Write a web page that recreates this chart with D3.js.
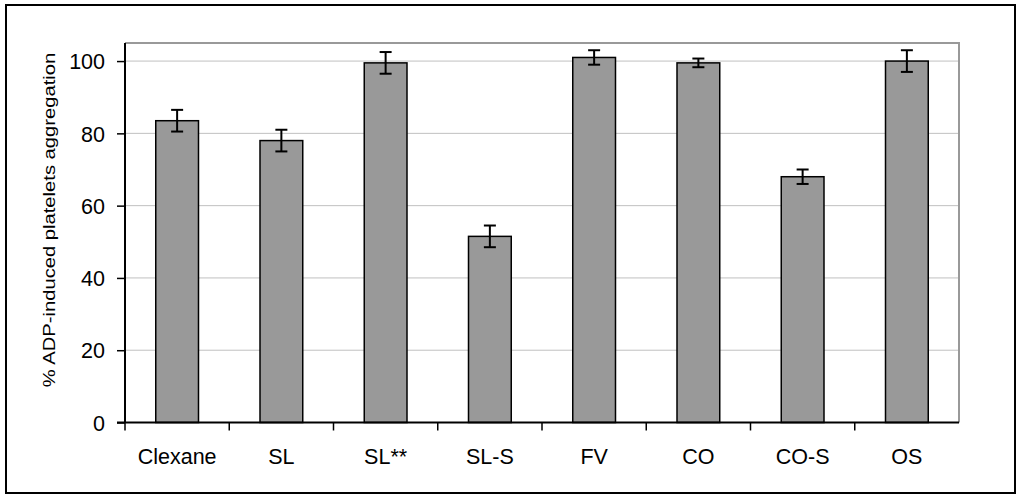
<!DOCTYPE html>
<html><head><meta charset="utf-8">
<script src="https://cdn.jsdelivr.net/npm/d3@7"></script>
<style>body{margin:0;background:#fff}svg{display:block}text{font-family:"Liberation Sans",Arial,sans-serif}</style>
</head><body><svg id="c" width="1024" height="499"></svg>
<script>
const categories = ["Clexane","SL","SL**","SL-S","FV","CO","CO-S","OS"];
const values = [83.5, 78, 99.5, 51.5, 101, 99.5, 68, 100];
const errors = [3, 3, 3, 3, 2, 1.2, 2, 3];
const yTicks = [0, 20, 40, 60, 80, 100];

const svg = d3.select("#c");
const L = 125, R = 959, T = 43, B = 422.5;
svg.append("rect").attr("x",6).attr("y",5).attr("width",1009).attr("height",488)
  .attr("fill","#fff").attr("stroke","#000").attr("stroke-width",2);

const x = d3.scaleBand().domain(categories).range([L,R]).paddingInner(0.59).paddingOuter(0.295);
const xb = d3.scaleBand().domain(categories).range([L,R]);
const y = d3.scaleLinear().domain([0,105]).range([B,T]);

// grid
svg.append("g").selectAll("line").data(yTicks.filter(d=>d>0)).join("line")
  .attr("x1",L).attr("x2",R).attr("y1",d=>y(d)).attr("y2",d=>y(d))
  .attr("stroke","#c0c0c0").attr("stroke-width",1);
// plot border top/right
svg.append("path").attr("d",`M${L},${T}H${R}V${B}`).attr("fill","none").attr("stroke","#999").attr("stroke-width",2);

// bars
svg.append("g").selectAll("rect").data(categories).join("rect")
  .attr("x",d=>x(d)).attr("width",x.bandwidth())
  .attr("y",(d,i)=>y(values[i])).attr("height",(d,i)=>B-y(values[i]))
  .attr("fill","#999999").attr("stroke","#000").attr("stroke-width",1.5);

// error bars
const eg = svg.append("g").attr("stroke","#000").attr("stroke-width",2);
categories.forEach((c,i)=>{
  const cx = x(c)+x.bandwidth()/2, hi=y(values[i]+errors[i]), lo=y(values[i]-errors[i]);
  eg.append("line").attr("x1",cx).attr("x2",cx).attr("y1",hi).attr("y2",lo);
  eg.append("line").attr("x1",cx-6).attr("x2",cx+6).attr("y1",hi).attr("y2",hi);
  eg.append("line").attr("x1",cx-6).attr("x2",cx+6).attr("y1",lo).attr("y2",lo);
});

// y axis
const ya = d3.axisLeft(y).tickValues(yTicks).tickSize(8).tickPadding(12);
const yg = svg.append("g").attr("transform",`translate(${L},0)`).call(ya);
yg.attr("font-size",null).attr("font-family",null);
yg.select(".domain").attr("stroke","#000").attr("stroke-width",2).attr("d",`M0,${T}V${B}`);
yg.selectAll(".tick line").attr("stroke","#000").attr("stroke-width",1.5);
yg.selectAll("text").attr("font-size",21.5).attr("fill","#000").attr("dy","0.36em");

// x axis
const xg = svg.append("g").attr("transform",`translate(0,${B})`);
xg.append("line").attr("x1",L-8).attr("x2",R).attr("y1",0).attr("y2",0).attr("stroke","#000").attr("stroke-width",2);
xg.selectAll(".xt").data(categories.slice(1)).join("line").attr("class","xt")
  .attr("x1",d=>xb(d)).attr("x2",d=>xb(d)).attr("y1",0).attr("y2",8).attr("stroke","#000").attr("stroke-width",1.5);
xg.append("line").attr("x1",L).attr("x2",L).attr("y1",0).attr("y2",8).attr("stroke","#000").attr("stroke-width",1.5);
xg.selectAll(".xl").data(categories).join("text").attr("class","xl")
  .attr("x",d=>xb(d)+xb.bandwidth()/2).attr("y",41).attr("text-anchor","middle")
  .attr("font-size",21.5).attr("fill","#000").text(d=>d);

svg.append("text").attr("transform","translate(55,220) rotate(-90) scale(1,0.8)").attr("text-anchor","middle")
  .attr("font-size",20.2).attr("fill","#000").text("% ADP-induced platelets aggregation");
</script></body></html>
